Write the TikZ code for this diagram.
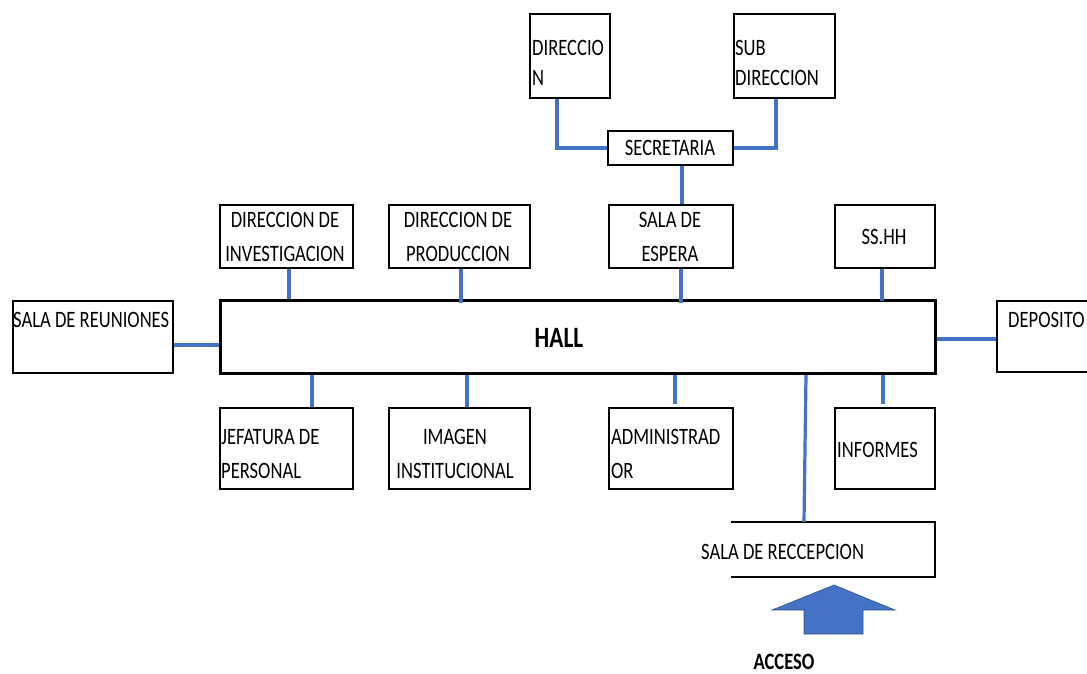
\documentclass[tikz,border=0pt]{standalone}
\usepackage{fontspec}
\setmainfont{Carlito}[FakeStretch=0.79]
\definecolor{wireblue}{HTML}{4472C4}
\definecolor{arrowedge}{HTML}{2F528F}
\begin{document}
\begin{tikzpicture}[x=1pt,y=-1pt,
  room/.style 2 args={draw=black, line width=2pt, inner sep=0pt, anchor=north west,
                      minimum width=#1, minimum height=#2},
  wire/.style={draw=wireblue, line width=3.2pt},
  txt/.style={inner sep=0pt, font=\fontsize{23.5}{28}\selectfont},
  lt/.style={txt, anchor=base west},
  ct/.style={txt, anchor=base},
  bt/.style={inner sep=0pt, anchor=base, font=\fontsize{23.5}{28}\selectfont\bfseries}]
\useasboundingbox (0,0) rectangle (1087,674);

% rooms
\node[room={80pt}{84pt}]   (dir)  at (529,13)  {};
\node[room={101pt}{84pt}]  (sub)  at (733,13)  {};
\node[room={125pt}{34pt}]  (sec)  at (607,130) {};
\node[room={133pt}{63pt}]  (inv)  at (219,204) {};
\node[room={141pt}{63pt}]  (prod) at (388,204) {};
\node[room={124pt}{63pt}]  (esp)  at (608,204) {};
\node[room={100pt}{63pt}]  (ss)   at (834,204) {};
\node[room={160pt}{72pt}]  (reu)  at (12,300)  {};
\node[room={715pt}{73pt}, line width=3pt] (hall) at (219,299) {};
\node[room={110pt}{71pt}]  (dep)  at (996,300) {};
\node[room={133pt}{81pt}]  (jef)  at (219,407) {};
\node[room={141pt}{81pt}]  (img)  at (388,407) {};
\node[room={124pt}{81pt}]  (adm)  at (608,407) {};
\node[room={100pt}{81pt}]  (inf)  at (834,407) {};

% reception: open on the left
\coordinate (recTL) at (731,522);
\coordinate (recTR) at (935,522);
\coordinate (recBR) at (935,577);
\coordinate (recBL) at (731,577);
\draw[line width=2pt] (recTL) -- (recTR) -- (recBR) -- (recBL);

% labels
\node[lt] (tdir1) at (532,56) {DIRECCIO};
\node[lt] (tdir2) at (532,86) {N};
\node[lt] (tsub1) at (735,56) {SUB};
\node[lt] (tsub2) at (735,86) {DIRECCION};
\node[ct] (tsec)  at (670,156) {SECRETARIA};
\node[ct] (tinv1) at (285,227) {DIRECCION DE};
\node[ct] (tinv2) at (285,261) {INVESTIGACION};
\node[ct] (tpro1) at (458,227) {DIRECCION DE};
\node[ct] (tpro2) at (458,261) {PRODUCCION};
\node[ct] (tesp1) at (670,227) {SALA DE};
\node[ct] (tesp2) at (670,261) {ESPERA};
\node[ct] (tss)   at (884,244) {SS.HH};
\node[lt] (treu)  at (13,327)  {SALA DE REUNIONES};
\node[bt, font=\fontsize{29.5}{32}\selectfont\bfseries] (thall) at (559,347) {HALL};
\node[lt] (tdep)  at (1008,327) {DEPOSITO};
\node[lt] (tjef1) at (221,444) {JEFATURA DE};
\node[lt] (tjef2) at (221,478) {PERSONAL};
\node[ct] (timg1) at (455,444) {IMAGEN};
\node[ct] (timg2) at (455,478) {INSTITUCIONAL};
\node[lt] (tadm1) at (611,444) {ADMINISTRAD};
\node[lt] (tadm2) at (611,478) {OR};
\node[lt] (tinf)  at (837,457) {INFORMES};
\node[lt] (rec)   at (701,559) {SALA DE RECCEPCION};
\node[bt] (acc)   at (784,669) {ACCESO};

% connectors
\draw[wire] (dir.south -| 557,0) |- (sec.west);
\draw[wire] (sub.south -| 776,0) |- (sec.east);
\draw[wire] (sec.south -| 682,0) -- (esp.north -| 682,0);
\draw[wire] (esp.south -| 681,0) -- ([yshift=-4pt]hall.north -| 681,0);
\draw[wire] (inv.south -| 289,0) -- (hall.north -| 289,0);
\draw[wire] (prod.south -| 461,0) -- ([yshift=-4pt]hall.north -| 461,0);
\draw[wire] (ss.south -| 882,0) -- ([yshift=-2pt]hall.north -| 882,0);
\draw[wire] (reu.east |- 0,345) -- (hall.west |- 0,345);
\draw[wire] (hall.east |- 0,339) -- (dep.west |- 0,339);
\draw[wire] (hall.south -| 312,0) -- (jef.north -| 312,0);
\draw[wire] (hall.south -| 467,0) -- (img.north -| 467,0);
\draw[wire] (hall.south -| 675,0) -- ([yshift=3pt]adm.north -| 675,0);
\draw[wire] (hall.south -| 883,0) -- ([yshift=3pt]inf.north -| 883,0);
\draw[wire] (hall.south -| 806,0) -- (recTL -| 804,0);

% entrance arrow
\filldraw[fill=wireblue, draw=arrowedge, line width=0.6pt]
  (834,585) -- (895,610) -- (863,610) -- (863,634) -- (804,634) -- (804,610) -- (772,610) -- cycle;
\end{tikzpicture}
\end{document}
